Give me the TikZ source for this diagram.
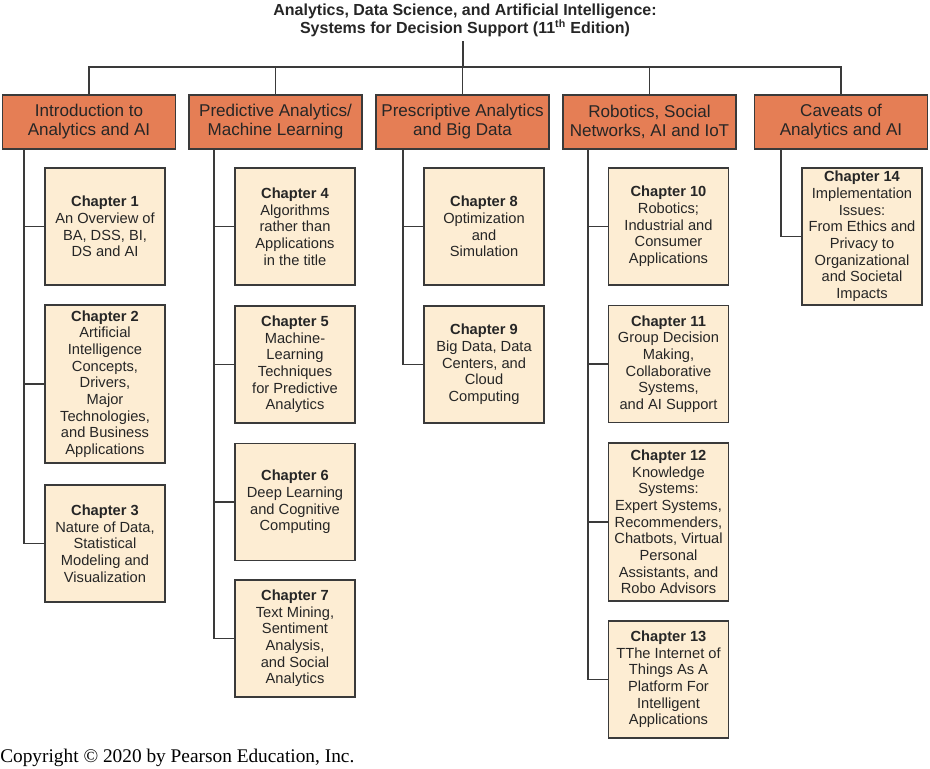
\documentclass[tikz,border=0pt]{standalone}
\usepackage{fontspec}
\setmainfont{Liberation Sans}
\newfontfamily\copyfont{Liberation Serif}
\definecolor{partorange}{HTML}{E57E55}
\definecolor{chapcream}{HTML}{FDEDD3}
\definecolor{edgegray}{HTML}{3A3A3A}
\tikzset{
  partbox/.style={draw=edgegray, fill=partorange, line width=1.2pt,
    minimum width=129.75pt, minimum height=40.5pt, inner sep=0pt,
    align=center, text=black!85, font=\fontsize{12.8}{14.25}\selectfont},
  chapbox/.style={draw=edgegray, fill=chapcream, line width=1.2pt,
    minimum width=90pt, minimum height=87.75pt, inner sep=0pt,
    align=center, text=black!85, font=\fontsize{11}{12.5}\selectfont},
  link/.style={draw=edgegray, line width=1.2pt}
}
\newcommand{\chap}[1]{\textbf{Chapter #1}}
\begin{document}
\begin{tikzpicture}[x=0.75pt,y=-0.75pt]
\useasboundingbox (0,0) rectangle (930,768);

% title
\node[anchor=north, inner sep=0pt, align=center, text=black!85,
  font=\fontsize{12}{13.5}\selectfont\bfseries] (title) at (465,3.5)
  {Analytics, Data Science, and Artificial Intelligence:\\
   Systems for Decision Support (11\textsuperscript{th} Edition)};
\coordinate (stem) at (463,41);
\coordinate (hub) at (463,67);

% parts
\node[partbox] (h1) at (89,122) {Introduction to\\Analytics and AI};
\node[partbox] (h2) at (275.5,122) {Predictive Analytics/\\Machine Learning};
\node[partbox] (h3) at (462.5,122) {Prescriptive Analytics\\and Big Data};
\node[partbox] (h4) at (649.5,122) {Robotics, Social\\Networks, AI and IoT};
\node[partbox] (h5) at (841,122) {Caveats of\\Analytics and AI};

% chapters
\node[chapbox] (c1) at (105,226.5) {\chap{1}\\An Overview of\\BA, DSS, BI,\\DS and AI};
\node[chapbox, minimum height=118.5pt] (c2) at (105,384) {\chap{2}\\Artificial\\Intelligence\\Concepts,\\Drivers,\\Major\\Technologies,\\and Business\\Applications};
\node[chapbox] (c3) at (105,543.5) {\chap{3}\\Nature of Data,\\Statistical\\Modeling and\\Visualization};

\node[chapbox] (c4) at (295,226.5) {\chap{4}\\Algorithms\\rather than\\Applications\\in the title};
\node[chapbox] (c5) at (295,364.5) {\chap{5}\\Machine-\\Learning\\Techniques\\for Predictive\\Analytics};
\node[chapbox] (c6) at (295,502) {\chap{6}\\Deep Learning\\and Cognitive\\Computing};
\node[chapbox] (c7) at (295,638.5) {\chap{7}\\Text Mining,\\Sentiment\\Analysis,\\and Social\\Analytics};

\node[chapbox] (c8) at (484,226.5) {\chap{8}\\Optimization\\and\\Simulation};
\node[chapbox] (c9) at (484,364.5) {\chap{9}\\Big Data, Data\\Centers, and\\Cloud\\Computing};

\node[chapbox] (c10) at (668.5,226.5) {\chap{10}\\Robotics;\\Industrial and\\Consumer\\Applications};
\node[chapbox] (c11) at (668.5,364) {\chap{11}\\Group Decision\\Making,\\Collaborative\\Systems,\\and AI Support};
\node[chapbox, minimum height=118.5pt] (c12) at (668.5,522) {\chap{12}\\Knowledge\\Systems:\\Expert Systems,\\Recommenders,\\Chatbots, Virtual\\Personal\\Assistants, and\\Robo Advisors};
\node[chapbox] (c13) at (668.5,679.5) {\chap{13}\\TThe Internet of\\Things As A\\Platform For\\Intelligent\\Applications};

\node[chapbox, minimum height=102.75pt] (c14) at (862,236.5) {\chap{14}\\Implementation\\Issues:\\From Ethics and\\Privacy to\\Organizational\\and Societal\\Impacts};

% tree links
\draw[link] (stem) -- (hub);
\draw[link] (h1.north) |- (hub) -| (h5.north);
\foreach \h in {h2,h3,h4}
  \draw[link] (\h.north) -- (\h.north |- hub);

\foreach \h/\top/\bot in {h1/c1/c3, h2/c4/c7, h3/c8/c9, h4/c10/c13, h5/c14/c14}
  \draw[link] ([xshift=-15pt]\top.west |- \h.south) |- (\bot.west);
\foreach \c in {c1,c2,c4,c5,c6,c8,c10,c11,c12}
  \draw[link] ([xshift=-15pt]\c.west) -- (\c.west);

% footer
\node[anchor=base west, inner sep=0pt, font=\copyfont\fontsize{14.5}{16}\selectfont] (copy) at (0,762)
  {Copyright © 2020 by Pearson Education, Inc.};
\end{tikzpicture}
\end{document}
